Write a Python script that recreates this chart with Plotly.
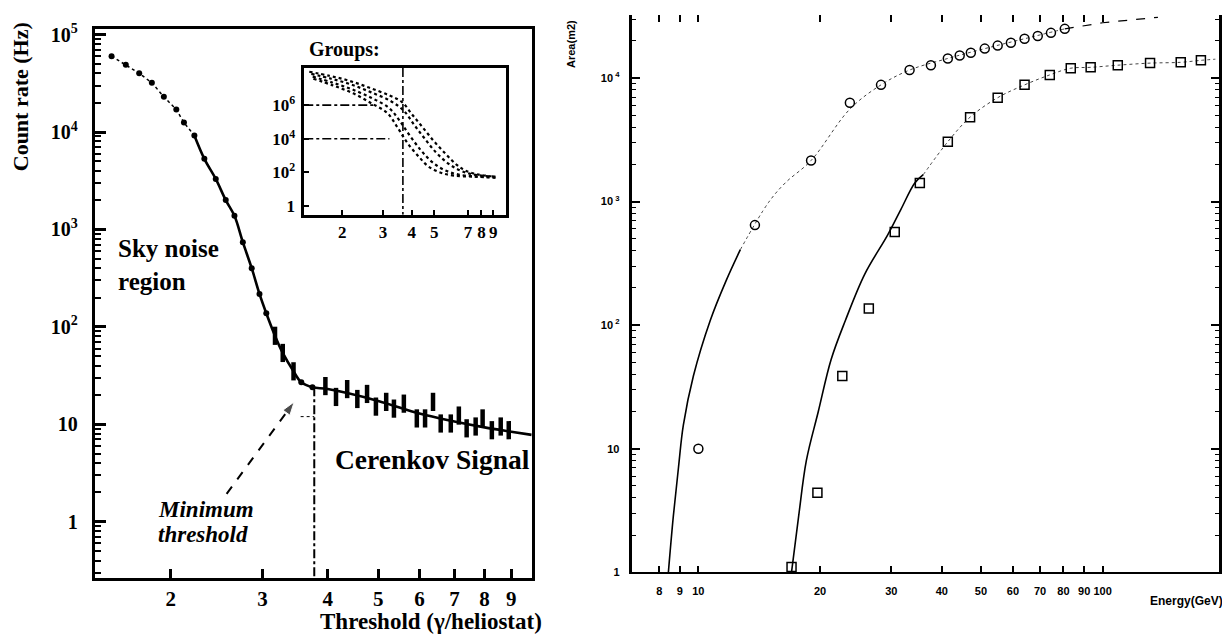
import numpy as np
import plotly.graph_objects as go

# ---------------- Left panel: count rate vs threshold ----------------
sky_x = [1.54, 1.64, 1.74, 1.84, 1.94, 2.05, 2.12, 2.22, 2.32, 2.44, 2.55, 2.65,
         2.75, 2.86, 2.96, 3.05, 3.56, 3.74]
sky_y = [6.0e4, 4.9e4, 4.0e4, 3.2e4, 2.3e4, 1.7e4, 1.25e4, 9.2e3, 5.3e3, 3.3e3,
         2.0e3, 1380, 740, 400, 218, 138, 27, 24]

cer_x = [3.17, 3.28, 3.44, 3.96, 4.15, 4.36, 4.56, 4.76, 4.95, 5.18, 5.36, 5.60,
         5.93, 6.15, 6.37, 6.59, 6.89, 7.14, 7.39, 7.69, 7.93, 8.26, 8.59, 8.90]
cer_y = [81, 54, 35, 24.7, 19.1, 23, 18.2, 20.5, 15.2, 17.0, 14.5, 16.3,
         11.5, 11.5, 17.0, 10.2, 10.2, 12.3, 9.1, 9.5, 11.5, 8.7, 9.5, 8.7]

fit_dot_x = [1.54, 1.64, 1.74, 1.84, 1.94, 2.05, 2.12, 2.22]
fit_dot_y = [6.0e4, 4.9e4, 4.0e4, 3.2e4, 2.3e4, 1.7e4, 1.25e4, 9.2e3]
fit_x = [2.22, 2.32, 2.44, 2.55, 2.65, 2.75, 2.86, 2.96, 3.05, 3.17, 3.28, 3.44,
         3.56, 3.74, 4.0, 5.0, 6.0, 7.0, 8.0, 9.0, 9.85]
fit_y = [9200, 5300, 3300, 2000, 1380, 740, 400, 218, 138, 81, 54, 35,
         27, 24, 23, 17.4, 12.9, 10.7, 9.3, 8.4, 7.8]

min_thr_x = [3.77, 3.77]
min_thr_y = [24, 0.26]
thr_dash_x = [3.55, 3.77]
thr_dash_y = [12, 12]
arrow_x = [2.56, 3.45]
arrow_y = [1.93, 17]

left_xticks = [2, 3, 4, 5, 6, 7, 8, 9]
left_yticks = [1, 10, 100, 1e3, 1e4, 1e5]
left_yticktext = ["1", "10", "10<sup>2</sup>", "10<sup>3</sup>", "10<sup>4</sup>", "10<sup>5</sup>"]
left_yminor = [m * 10.0 ** d for d in range(-1, 5) for m in range(2, 10)]

# ---------------- Inset: groups ----------------
grpA_x = [1.44, 1.76, 2.14, 2.61, 3.19, 3.63, 4.01, 4.43, 4.99, 5.61, 6.26, 6.84, 7.79, 9.2]
grpA_y = [9.5e7, 5.5e7, 2.8e7, 1.1e7, 3.8e6, 1.5e6, 2.8e5, 5.3e4, 7.1e3, 1.24e3, 285, 127, 75, 57]
grpB_x = [1.47, 1.79, 2.19, 2.67, 3.25, 3.70, 4.09, 4.51, 5.08, 5.78, 6.52, 7.41, 9.2]
grpB_y = [7.2e7, 3.7e7, 1.66e7, 5.7e6, 1.7e6, 4.5e5, 6.9e4, 1.2e4, 1.6e3, 325, 127, 75, 57]
grpC_x = [1.49, 1.81, 2.21, 2.69, 3.19, 3.52, 3.89, 4.38, 4.89, 5.50, 6.38, 7.79, 9.2]
grpC_y = [4.9e7, 2.2e7, 8.5e6, 2.6e6, 6.7e5, 1.34e5, 1.8e4, 2.1e3, 425, 146, 75, 57, 50]
grpD_x = [1.50, 1.83, 2.23, 2.67, 3.13, 3.45, 3.81, 4.30, 4.74, 5.34, 6.08, 7.41, 9.2]
grpD_y = [3.7e7, 1.45e7, 5.0e6, 1.3e6, 3.4e5, 5.3e4, 6.2e3, 830, 217, 97, 65, 57, 50]
inset_h_x1 = [1.37, 2.80]
inset_h_y1 = [1e6, 1e6]
inset_h_x2 = [1.37, 3.20]
inset_h_y2 = [1e4, 1e4]
inset_v_x = [3.66, 3.66]
inset_v_y = [1.6e8, 0.31]
inset_xticks = [2, 3, 4, 5, 7, 8, 9]
inset_yticks = [1, 1e2, 1e4, 1e6]
inset_yticktext = ["1", "10<sup>2</sup>", "10<sup>4</sup>", "10<sup>6</sup>"]

# ---------------- Right panel: effective area vs energy ----------------
circ_x = [10.0, 13.8, 19.0, 23.7, 28.3, 33.3, 37.6, 41.4, 44.3, 47.2, 51.1, 55.0,
          59.3, 64.1, 69.1, 74.5, 80.6]
circ_y = [10, 645, 2150, 6300, 8800, 11600, 12700, 14400, 15200, 16000, 17300, 18300,
          19300, 20800, 21900, 23200, 25000]
sq_x = [17.0, 19.7, 22.7, 26.4, 30.6, 35.3, 41.4, 47.0, 55.0, 64.1, 74.0, 83.4,
        93.4, 109, 131, 156, 175]
sq_y = [1.1, 4.4, 38.7, 136, 568, 1415, 3050, 4820, 6930, 8800, 10600, 12000,
        12200, 12700, 13200, 13400, 13900]

cfit_x = [8.43, 8.67, 8.93, 9.18, 9.72, 10.7, 11.7, 12.7]
cfit_y = [1.0, 2.83, 7.07, 15.5, 38.7, 109, 227, 408]
cfit_dot_x = [12.7, 14.9, 16.4, 19.0, 23.7, 28.3, 33.3, 41.4, 51.1, 64.1, 80.6]
cfit_dot_y = [408, 980, 1415, 2150, 5600, 8800, 11600, 14400, 17300, 20800, 25000]
cfit_dash_x = [80.6, 100, 137]
cfit_dash_y = [25000, 28000, 31000]

sfit_x = [17.0, 17.7, 18.5, 19.8, 21.3, 23.1, 25.8, 29.4, 31.7, 34.3, 36.0]
sfit_y = [1.0, 2.83, 8.03, 20, 52.7, 109, 259, 537, 865, 1415, 1650]
sfit_dot_x = [36.0, 41.4, 47.0, 55.0, 64.1, 74.0, 83.4, 93.4, 109, 131, 156, 175, 190]
sfit_dot_y = [1650, 3050, 4820, 6930, 8800, 10600, 12000, 12200, 12700, 13200, 13400, 13900, 14200]

right_xticks = [8, 9, 10, 20, 30, 40, 50, 60, 70, 80, 90, 100]
right_yticks = [1, 10, 100, 1e3, 1e4]
right_yticktext = ["1", "10", "10<sup> 2</sup>", "10<sup> 3</sup>", "10<sup> 4</sup>"]
right_yminor = [m * 10.0 ** d for d in range(0, 5) for m in range(2, 10)]

# page body has an 8px margin: figure is shifted by OFF inside the window
OFF = 8
W, H = 1230 - 2 * OFF, 644 - 2 * OFF
SERIF = "Liberation Serif"
SANS = "Liberation Sans"


def px(x):
    return (x - OFF) / W


def py(y):
    return 1 - (y - OFF) / H


fig = go.Figure()
blk = "black"

# left panel traces
fig.add_trace(go.Scatter(x=fit_dot_x, y=fit_dot_y, mode="lines",
                         line=dict(color=blk, width=1.5, dash="dot"), xaxis="x", yaxis="y"))
fig.add_trace(go.Scatter(x=fit_x, y=fit_y, mode="lines", line_shape="spline",
                         line=dict(color=blk, width=2.6), xaxis="x", yaxis="y"))
fig.add_trace(go.Scatter(x=sky_x, y=sky_y, mode="markers",
                         marker=dict(color=blk, size=6), xaxis="x", yaxis="y"))
fig.add_trace(go.Scatter(x=cer_x, y=cer_y, mode="markers",
                         marker=dict(symbol="line-ns-open", size=13, color=blk,
                                     line=dict(color=blk, width=4.5)),
                         xaxis="x", yaxis="y"))
fig.add_trace(go.Scatter(x=min_thr_x, y=min_thr_y, mode="lines",
                         line=dict(color=blk, width=2, dash="dashdot"), xaxis="x", yaxis="y"))
fig.add_trace(go.Scatter(x=thr_dash_x, y=thr_dash_y, mode="lines",
                         line=dict(color=blk, width=1, dash="dot"), xaxis="x", yaxis="y"))
fig.add_trace(go.Scatter(x=arrow_x, y=arrow_y, mode="lines+markers",
                         line=dict(color=blk, width=2, dash="dash"),
                         marker=dict(symbol=["circle", "arrow"], size=[0, 14], color=blk,
                                     angleref="previous"),
                         xaxis="x", yaxis="y"))

# inset traces
for gx, gy in [(grpA_x, grpA_y), (grpB_x, grpB_y), (grpC_x, grpC_y), (grpD_x, grpD_y)]:
    fig.add_trace(go.Scatter(x=gx, y=gy, mode="lines", line_shape="spline",
                             line=dict(color=blk, width=2.2, dash="dot"), xaxis="x2", yaxis="y2"))
for hx, hy in [(inset_h_x1, inset_h_y1), (inset_h_x2, inset_h_y2), (inset_v_x, inset_v_y)]:
    fig.add_trace(go.Scatter(x=hx, y=hy, mode="lines",
                             line=dict(color=blk, width=1.6, dash="dashdot"), xaxis="x2", yaxis="y2"))

# right panel traces
fig.add_trace(go.Scatter(x=cfit_x, y=cfit_y, mode="lines", line_shape="spline",
                         line=dict(color=blk, width=1.6), xaxis="x3", yaxis="y3"))
fig.add_trace(go.Scatter(x=cfit_dot_x, y=cfit_dot_y, mode="lines", line_shape="spline",
                         line=dict(color="#444", width=1, dash="dot"), xaxis="x3", yaxis="y3"))
fig.add_trace(go.Scatter(x=cfit_dash_x, y=cfit_dash_y, mode="lines",
                         line=dict(color=blk, width=1.2, dash="dash"), xaxis="x3", yaxis="y3"))
fig.add_trace(go.Scatter(x=sfit_x, y=sfit_y, mode="lines", line_shape="spline",
                         line=dict(color=blk, width=1.6), xaxis="x3", yaxis="y3"))
fig.add_trace(go.Scatter(x=sfit_dot_x, y=sfit_dot_y, mode="lines", line_shape="spline",
                         line=dict(color="#444", width=1, dash="dot"), xaxis="x3", yaxis="y3"))
fig.add_trace(go.Scatter(x=circ_x, y=circ_y, mode="markers",
                         marker=dict(symbol="circle-open", size=9, color=blk, line=dict(width=1.5)),
                         xaxis="x3", yaxis="y3"))
fig.add_trace(go.Scatter(x=sq_x, y=sq_y, mode="markers",
                         marker=dict(symbol="square-open", size=9, color=blk, line=dict(width=1.5)),
                         xaxis="x3", yaxis="y3"))
# invisible trace so that the top tick axis is drawn
fig.add_trace(go.Scatter(x=[10], y=[10], mode="markers", marker=dict(size=0, opacity=0),
                         xaxis="x4", yaxis="y3", hoverinfo="skip"))

common = dict(showgrid=False, zeroline=False, color=blk, linecolor=blk, tickcolor=blk)

fig.update_layout(
    width=W, height=H, margin=dict(l=0, r=0, t=0, b=0),
    paper_bgcolor="white", plot_bgcolor="rgba(0,0,0,0)", showlegend=False,
    xaxis=dict(**common, type="log", range=[np.log10(1.43), np.log10(9.85)],
               domain=[px(95), px(533)], anchor="y",
               showline=True, mirror=True, linewidth=3,
               tickmode="array", tickvals=left_xticks, ticktext=[str(v) for v in left_xticks],
               ticks="inside", ticklen=9, tickwidth=2.5, ticklabelstandoff=0,
               tickfont=dict(family=SERIF, size=21, color=blk, weight="bold")),
    yaxis=dict(**common, type="log", range=[-0.578, 5.06],
               domain=[py(583), py(22)], anchor="x",
               showline=True, mirror=True, linewidth=3,
               tickmode="array", tickvals=left_yticks, ticktext=left_yticktext,
               ticks="inside", ticklen=11, tickwidth=2.5, ticklabelstandoff=10,
               minor=dict(tickmode="array", tickvals=left_yminor, ticks="inside",
                          ticklen=6, tickwidth=2, tickcolor=blk, showgrid=False),
               tickfont=dict(family=SERIF, size=20, color=blk, weight="bold")),
    xaxis2=dict(**common, type="log", range=[np.log10(1.37), np.log10(10.2)],
                domain=[px(305), px(507)], anchor="y2",
                showline=True, mirror=True, linewidth=2.5,
                tickmode="array", tickvals=inset_xticks, ticktext=[str(v) for v in inset_xticks],
                ticks="inside", ticklen=5, tickwidth=2, ticklabelstandoff=0,
                tickfont=dict(family=SERIF, size=17, color=blk, weight="bold")),
    yaxis2=dict(**common, type="log", range=[-0.51, 8.21],
                domain=[py(212), py(62)], anchor="x2",
                showline=True, mirror=True, linewidth=2.5,
                tickmode="array", tickvals=inset_yticks, ticktext=inset_yticktext,
                ticks="inside", ticklen=5, tickwidth=2, ticklabelstandoff=3,
                tickfont=dict(family=SERIF, size=17, color=blk, weight="bold")),
    xaxis3=dict(**common, type="log", range=[np.log10(6.87), np.log10(194)],
                domain=[px(634), px(1222)], anchor="y3",
                showline=True, mirror=False, linewidth=2,
                tickmode="array", tickvals=right_xticks, ticktext=[str(v) for v in right_xticks],
                ticks="inside", ticklen=6, tickwidth=1.5, ticklabelstandoff=8,
                tickfont=dict(family=SANS, size=11, color=blk, weight="bold")),
    xaxis4=dict(**common, type="log", range=[np.log10(6.87), np.log10(194)],
                domain=[px(634), px(1222)], anchor="y3", overlaying="x3", side="top",
                showline=False, tickmode="array", tickvals=right_xticks,
                ticks="inside", ticklen=7, tickwidth=1.5, showticklabels=False),
    yaxis3=dict(**common, type="log", range=[0, 4.51],
                domain=[py(577), py(8)], anchor="x3",
                showline=True, mirror="ticks", linewidth=2.5,
                tickmode="array", tickvals=right_yticks, ticktext=right_yticktext,
                ticks="inside", ticklen=8, tickwidth=1.5, ticklabelstandoff=8,
                minor=dict(tickmode="array", tickvals=right_yminor, ticks="inside",
                           ticklen=4, tickwidth=1.2, tickcolor=blk, showgrid=False),
                tickfont=dict(family=SANS, size=11, color=blk, weight="bold")),
)

ann = []


def text(x, y, s, size, family=SERIF, xanchor="left", angle=0, italic=False):
    ann.append(dict(x=px(x), y=py(y), xref="paper", yref="paper", text=s, showarrow=False,
                    xanchor=xanchor, yanchor="middle", textangle=angle, align="left",
                    font=dict(family=family, size=size, color=blk, weight="bold",
                              style="italic" if italic else "normal")))


text(20, 91, "Count rate (Hz)", 22, xanchor="center", angle=-90)
text(432, 627, "Threshold (γ/heliostat)", 23, xanchor="center")
text(116, 263, "Sky noise<br>region", 25)
text(334, 462, "Cerenkov Signal", 27.5)
text(156, 513, "Minimum", 23, italic=True)
text(156, 538, "threshold", 23, italic=True)
text(308, 43, "Groups:", 20)
text(1228, 606, "Energy(GeV)", 12, family=SANS, xanchor="right")
text(573, 38, "Area(m2)", 11, family=SANS, xanchor="center", angle=-90)

fig.update_layout(annotations=ann)
fig.write_html("out.html")
